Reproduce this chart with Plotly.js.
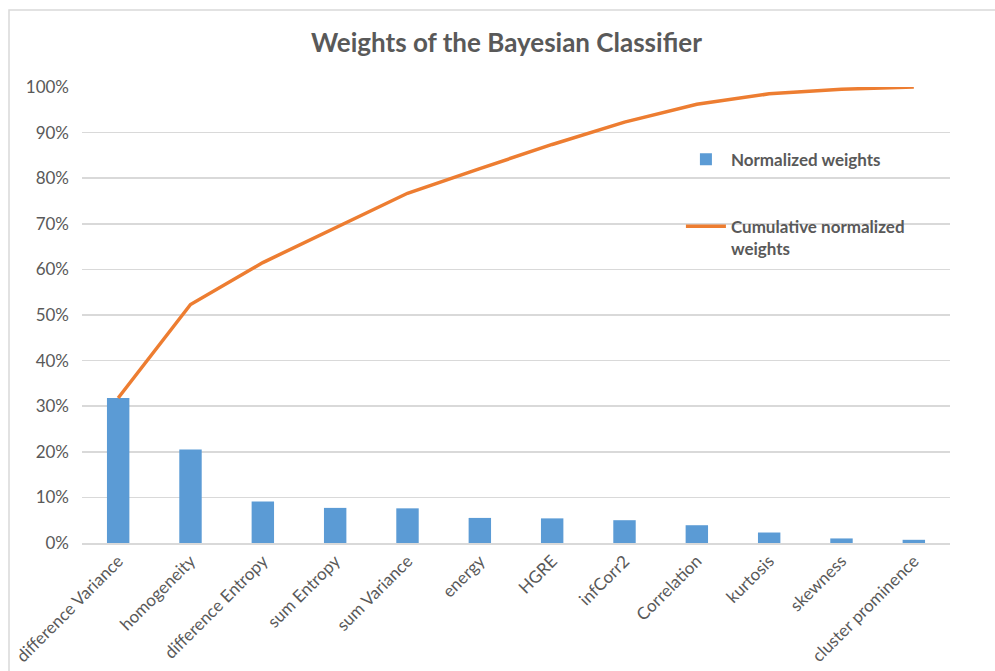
<!DOCTYPE html>
<html>
<head>
<meta charset="utf-8">
<script src="https://cdn.plot.ly/plotly-3.0.1.min.js"></script>
<style>
  html, body { margin: 0; padding: 0; background: #ffffff; overflow: hidden; }
  #chart { width: 995px; height: 671px; }
</style>
</head>
<body>
<div id="chart"></div>
<script>
// ---- data ----
const categories = [
  "difference Variance", "homogeneity", "difference Entropy", "sum Entropy",
  "sum Variance", "energy", "HGRE", "infCorr2", "Correlation", "kurtosis",
  "skewness", "cluster prominence"
];
const normalizedWeights = [0.318, 0.205, 0.091, 0.077, 0.076, 0.055, 0.054, 0.050, 0.039, 0.023, 0.010, 0.007];
const cumulativeWeights = [0.318, 0.523, 0.615, 0.692, 0.767, 0.821, 0.874, 0.923, 0.962, 0.985, 0.995, 1.000];
const yTickValues = [0, 0.1, 0.2, 0.3, 0.4, 0.5, 0.6, 0.7, 0.8, 0.9, 1.0];

const seriesNames = ["Normalized weights", "Cumulative normalized<br>weights"];
const chartTitle = "Weights of the Bayesian Classifier";

const fontFamily = "Lato, 'Open Sans', 'Liberation Sans', sans-serif";
const textGray = "#595959";
const gridGray = "#d9d9d9";

const traces = [
  {
    type: "bar",
    x: categories,
    y: normalizedWeights,
    name: seriesNames[0],
    legendgroup: "a",
    marker: { color: "#5B9BD5" },
    width: 0.31,
    hoverinfo: "skip"
  },
  {
    type: "scatter",
    mode: "lines",
    x: categories,
    y: cumulativeWeights,
    name: seriesNames[1],
    legendgroup: "b",
    line: { color: "#ED7D31", width: 3.5 },
    hoverinfo: "skip"
  }
];

const layout = {
  width: 995,
  height: 671,
  margin: { l: 82, r: 45, t: 87, b: 128 },
  paper_bgcolor: "#ffffff",
  plot_bgcolor: "#ffffff",
  font: { family: fontFamily, color: textGray, size: 17 },
  title: {
    text: "<b>" + chartTitle + "</b>",
    font: { family: fontFamily, size: 26, color: textGray },
    x: 0.509, xref: "container", xanchor: "center",
    y: 0.936, yref: "container", yanchor: "middle"
  },
  showlegend: true,
  legend: {
    x: 0.690, xanchor: "left",
    y: 0.88, yanchor: "top",
    bgcolor: "rgba(0,0,0,0)",
    font: { family: fontFamily, size: 17, color: textGray, weight: "bold" },
    traceorder: "grouped",
    tracegroupgap: 42,
    valign: "top",
    itemwidth: 40
  },
  xaxis: {
    type: "category",
    range: [-0.5, 11.5],
    tickangle: -45,
    tickfont: { family: fontFamily, size: 17, color: textGray },
    showgrid: false,
    showline: true,
    linecolor: gridGray,
    linewidth: 1.5,
    ticks: "",
    fixedrange: true
  },
  yaxis: {
    range: [0, 1.0],
    tickvals: yTickValues,
    tickformat: ".0%",
    tickfont: { family: fontFamily, size: 17, color: textGray },
    showgrid: true,
    gridcolor: gridGray,
    gridwidth: 1.5,
    zeroline: false,
    showline: false,
    ticks: "",
    ticklabelstandoff: 12,
    fixedrange: true
  },
  shapes: [
    {
      type: "rect",
      xref: "paper", yref: "paper",
      x0: -0.0841, x1: 1.06,
      y0: -0.35, y1: 1.1689,
      line: { color: gridGray, width: 1.5 },
      fillcolor: "rgba(0,0,0,0)",
      layer: "below"
    }
  ],
  hovermode: false
};

Plotly.newPlot("chart", traces, layout, { displayModeBar: false, staticPlot: true });
</script>
</body>
</html>
